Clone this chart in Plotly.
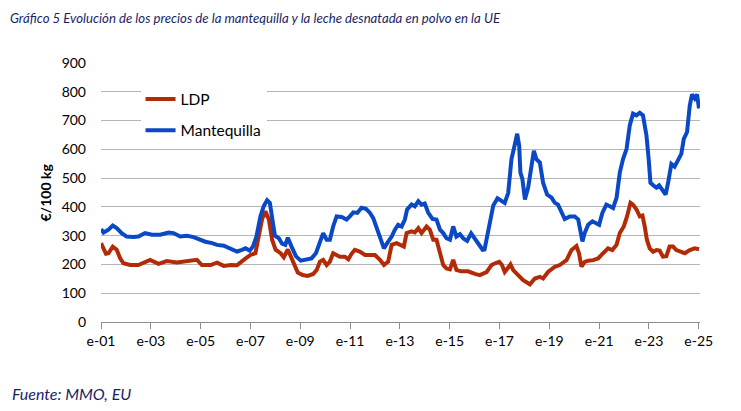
import plotly.graph_objects as go

# ---- data (decimal years, €/100 kg) ----
mant_x = [2001.00,2001.10,2001.30,2001.47,2001.63,2001.83,2002.03,2002.30,2002.50,2002.77,
          2003.04,2003.38,2003.71,2003.91,2004.18,2004.45,2004.72,2004.99,2005.19,2005.46,
          2005.66,2005.93,2006.20,2006.46,2006.66,2006.80,2006.97,2007.10,2007.24,2007.40,
          2007.53,2007.67,2007.78,2007.87,2007.98,2008.14,2008.27,2008.40,2008.50,2008.65,
          2008.83,2009.02,2009.25,2009.45,2009.63,2009.79,2009.92,2010.06,2010.19,2010.32,
          2010.46,2010.66,2010.86,2010.99,2011.13,2011.29,2011.46,2011.64,2011.80,2011.93,
          2012.06,2012.20,2012.36,2012.49,2012.67,2012.80,2012.93,2013.07,2013.20,2013.29,
          2013.47,2013.60,2013.74,2013.87,2014.00,2014.14,2014.31,2014.47,2014.61,2014.74,
          2014.87,2015.01,2015.14,2015.27,2015.41,2015.55,2015.70,2015.86,2016.00,2016.16,
          2016.32,2016.40,2016.50,2016.62,2016.75,2016.92,2017.08,2017.21,2017.35,2017.48,
          2017.59,2017.71,2017.79,2017.84,2017.92,2018.02,2018.15,2018.26,2018.38,2018.48,
          2018.62,2018.75,2018.91,2019.09,2019.22,2019.35,2019.49,2019.62,2019.82,2020.02,
          2020.16,2020.25,2020.33,2020.42,2020.56,2020.73,2020.89,2021.00,2021.13,2021.29,
          2021.43,2021.56,2021.70,2021.83,2021.96,2022.10,2022.23,2022.36,2022.50,2022.63,
          2022.76,2022.90,2022.99,2023.06,2023.17,2023.30,2023.41,2023.54,2023.67,2023.77,
          2023.90,2024.03,2024.17,2024.30,2024.40,2024.53,2024.64,2024.73,2024.84,2024.93,
          2025.01]
mant_y = [323,311,321,335,326,309,297,295,297,309,
          303,303,311,309,297,300,295,286,279,274,
          268,265,256,245,251,256,248,262,297,367,
          402,423,414,367,300,291,272,268,293,262,
          228,213,216,221,239,274,309,286,286,332,
          367,365,356,367,381,379,397,393,379,361,
          332,297,256,274,297,321,338,332,356,391,
          408,402,420,408,412,379,358,356,321,309,
          291,286,332,297,305,290,282,308,290,268,
          251,252,293,340,405,430,420,414,449,566,
          607,654,613,519,496,426,467,531,595,566,
          554,484,443,432,414,408,379,358,367,367,
          356,320,280,309,338,350,344,338,379,408,
          402,396,432,519,566,601,683,724,718,727,
          718,648,566,484,475,467,475,461,443,484,
          549,540,566,584,636,660,753,791,777,791,
          742]

ldp_x = [2001.00,2001.10,2001.20,2001.30,2001.47,2001.63,2001.77,2001.90,2002.17,2002.50,
         2002.77,2002.97,2003.31,2003.64,2004.05,2004.45,2004.85,2005.05,2005.40,2005.66,
         2005.93,2006.20,2006.46,2006.73,2007.00,2007.20,2007.33,2007.47,2007.60,2007.74,
         2007.87,2008.01,2008.21,2008.34,2008.50,2008.63,2008.78,2008.90,2009.10,2009.30,
         2009.52,2009.66,2009.79,2009.92,2010.06,2010.19,2010.32,2010.46,2010.59,2010.79,
         2010.93,2011.06,2011.19,2011.39,2011.60,2011.80,2012.00,2012.20,2012.36,2012.53,
         2012.67,2012.87,2013.07,2013.16,2013.27,2013.47,2013.60,2013.74,2013.87,2014.07,
         2014.20,2014.34,2014.47,2014.61,2014.74,2014.87,2015.01,2015.14,2015.27,2015.45,
         2015.74,2016.01,2016.21,2016.48,2016.68,2016.85,2016.99,2017.10,2017.21,2017.32,
         2017.44,2017.55,2017.75,2017.95,2018.22,2018.42,2018.62,2018.75,2018.95,2019.22,
         2019.42,2019.69,2019.89,2020.09,2020.19,2020.29,2020.42,2020.56,2020.76,2020.96,
         2021.16,2021.36,2021.53,2021.70,2021.83,2021.99,2022.12,2022.26,2022.36,2022.50,
         2022.63,2022.74,2022.83,2022.92,2023.03,2023.17,2023.30,2023.43,2023.56,2023.70,
         2023.83,2023.97,2024.10,2024.26,2024.44,2024.64,2024.84,2025.01]
ldp_y = [274,256,237,239,262,251,221,204,198,198,
         210,216,202,212,207,212,216,198,198,206,
         195,198,197,216,233,239,297,358,385,356,
         286,251,239,225,252,225,190,172,163,160,
         167,181,210,216,198,210,239,233,227,227,
         218,237,251,245,233,233,233,216,198,210,
         268,274,268,262,309,315,311,326,309,332,
         321,286,286,233,198,186,183,216,181,176,
         176,167,163,173,198,205,209,198,174,186,
         200,180,163,145,131,151,157,151,174,192,
         198,215,250,264,239,192,209,213,215,221,
         239,256,250,268,309,332,367,414,408,391,
         367,370,332,285,256,244,250,248,227,229,
         262,262,250,244,239,250,256,253]

tick_years = [2001, 2003, 2005, 2007, 2009, 2011, 2013, 2015, 2017, 2019, 2021, 2023, 2025]
tick_labels = ["e-01", "e-03", "e-05", "e-07", "e-09", "e-11", "e-13", "e-15",
               "e-17", "e-19", "e-21", "e-23", "e-25"]

FONT = "Lato"
NAVY = "#1b1f66"

L, T, PW, PH = 93, 55, 599, 259

fig = go.Figure()
fig.add_trace(go.Scatter(x=ldp_x, y=ldp_y, mode="lines", name="LDP", legendgroup="a",
                         line=dict(color="#b32b06", width=4)))
fig.add_trace(go.Scatter(x=mant_x, y=mant_y, mode="lines", name="Mantequilla", legendgroup="b",
                         line=dict(color="#0a48c6", width=4)))

fig.update_layout(
    width=741, height=411,
    margin=dict(l=L, r=741 - L - PW, t=T, b=411 - T - PH),
    paper_bgcolor="white", plot_bgcolor="white",
    font=dict(family=FONT, size=13, color="#000000"),
    showlegend=True,
    legend=dict(x=0.066, y=0.925, xanchor="left", yanchor="top",
                bgcolor="white", borderwidth=0, tracegroupgap=8,
                font=dict(family=FONT, size=15.5, color="#000000")),
    xaxis=dict(range=[2001, 2025.05], tickmode="array", tickvals=tick_years,
               ticktext=tick_labels, showgrid=False, zeroline=False,
               showline=True, linecolor="#8e8e98", linewidth=1.3,
               ticks="outside", ticklen=6, tickcolor="#8e8e98", tickwidth=1.3,
               tickfont=dict(family=FONT, size=14, color="#000000")),
    yaxis=dict(range=[0, 900], dtick=100, tick0=0, showgrid=True,
               gridcolor="#b4b4bc", gridwidth=1.3, zeroline=False, showline=False,
               ticks="", ticklabelstandoff=14,
               tickfont=dict(family=FONT, size=14, color="#000000")),
)

def px(xf):
    return (xf - L) / PW

def py(yf):
    return (T + PH - yf) / PH

fig.add_annotation(text="Gráfico 5 Evolución de los precios de la mantequilla y la leche desnatada en polvo en la UE",
                   xref="paper", yref="paper", x=px(1), y=py(0.5),
                   xanchor="left", yanchor="top", showarrow=False, borderpad=0,
                   font=dict(family=FONT, size=13.2, color=NAVY, style="italic"))
fig.add_annotation(text="Fuente: MMO, EU",
                   xref="paper", yref="paper", x=px(2), y=py(385),
                   xanchor="left", yanchor="middle", showarrow=False,
                   font=dict(family=FONT, size=16, color=NAVY, style="italic"))
fig.add_annotation(text="<b>€/100 kg</b>",
                   xref="paper", yref="paper", x=px(37), y=0.5,
                   xanchor="center", yanchor="middle", textangle=-90, showarrow=False,
                   font=dict(family=FONT, size=14, color="#000000"))

fig.write_html("out.html")
